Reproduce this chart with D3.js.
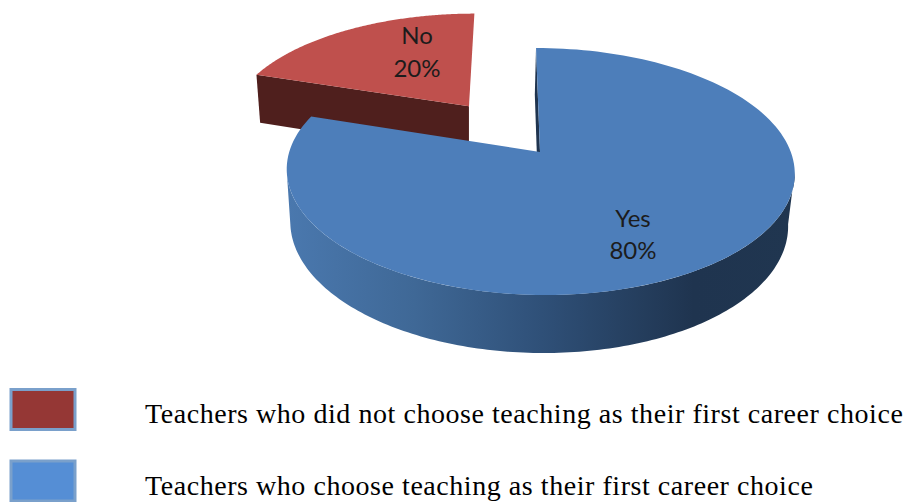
<!DOCTYPE html>
<html lang="en">

<head>
    <meta charset="UTF-8">
    <title>Career choice pie</title>
    <style>
        html, body { margin: 0; padding: 0; background: #fff; overflow: hidden; }
        svg { display: block; }
    </style>
</head>

<body>
    <svg id="chart" width="905" height="502"></svg>
    <script src="https://d3js.org/d3.v7.min.js"></script>
    <script>
        // data
        const categories = ["Yes", "No"];
        const shares = [80, 20];
        const sliceLabels = ["80%", "20%"];
        const legendLabels = [
            "Teachers who did not choose teaching as their first career choice",
            "Teachers who choose teaching as their first career choice"
        ];

        const topColors = { Yes: "#4d7eba", No: "#bf504d" };
        const legendColors = ["#953735", "#558ed5"];

        const svg = d3.select("#chart");

        // perspective projection of the tilted disc. u,v are disc coords (radius 1), z is 0 top, 1 bottom
        const apexX = 540, apexY = 152;
        const scaleX = 250.8, scaleY = 120.4, shear = 4.6, depth = 52.9;
        const tilt = 0.158, shrink = 0.02, lean = -1.5;
        function project(u, v, z) {
            const w = 1 - tilt * v + shrink * z;
            return [
                apexX + (scaleX * u + shear * v + lean * z) / w,
                apexY + (scaleY * v + depth * z) / w
            ];
        }

        const explode = { Yes: 0, No: 0.5 };

        const pie = d3.pie().sort(null);
        const slices = pie(shares).map((d, i) => {
            const mid = (d.startAngle + d.endAngle) / 2;
            const name = categories[i];
            return {
                name: name,
                start: d.startAngle,
                end: d.endAngle,
                dx: explode[name] * Math.sin(mid),
                dy: -explode[name] * Math.cos(mid)
            };
        });

        function rim(s, a, z) {
            return project(s.dx + Math.sin(a), s.dy - Math.cos(a), z);
        }
        function center(s, z) {
            return project(s.dx, s.dy, z);
        }
        function arcPoints(s, z, from, to) {
            const a0 = from === undefined ? s.start : from;
            const a1 = to === undefined ? s.end : to;
            const n = 160;
            return d3.range(n + 1).map(i => rim(s, a0 + (a1 - a0) * i / n, z));
        }

        const line = d3.line();
        const closed = pts => line(pts) + "Z";

        const yes = slices[0], no = slices[1];

        // side gradient for the blue wall
        const grad = svg.append("defs").append("linearGradient")
            .attr("id", "wall")
            .attr("gradientUnits", "userSpaceOnUse")
            .attr("x1", 288).attr("x2", 795).attr("y1", 0).attr("y2", 0);
        [[0, "#4a78ae"], [0.25, "#3f6896"], [0.5, "#2f5078"], [0.8, "#1f344f"], [1, "#203650"]].forEach(s => {
            grad.append("stop").attr("offset", s[0]).attr("stop-color", s[1]);
        });

        // red slice: cut face then top
        svg.append("path")
            .attr("d", closed([center(no, 0), rim(no, no.start, 0), rim(no, no.start, 1), center(no, 1)]))
            .attr("fill", "#4f1f1d");
        svg.append("path")
            .attr("d", closed([center(no, 0)].concat(arcPoints(no, 0))))
            .attr("fill", topColors.No);

        // blue slice: front of the outer wall only, between the two widest points of the rim
        const wallFrom = Math.acos(-tilt);
        const wallTo = 2 * Math.PI - wallFrom;
        svg.append("path")
            .attr("d", closed(arcPoints(yes, 0, wallFrom, wallTo).concat(arcPoints(yes, 1, wallFrom, wallTo).reverse())))
            .attr("fill", "url(#wall)");
        svg.append("path")
            .attr("d", closed([center(yes, 0), rim(yes, yes.start, 0), rim(yes, yes.start, 1), center(yes, 1)]))
            .attr("fill", "#1f344f");
        svg.append("path")
            .attr("d", closed([center(yes, 0)].concat(arcPoints(yes, 0))))
            .attr("fill", topColors.Yes);

        // slice labels
        const labelPos = { Yes: [633, 227, 259], No: [417, 44, 77] };
        categories.forEach((c, i) => {
            const p = labelPos[c];
            [c, sliceLabels[i]].forEach((t, j) => {
                svg.append("text")
                    .attr("x", p[0]).attr("y", p[j + 1])
                    .attr("text-anchor", "middle")
                    .attr("font-family", "Lato, 'Open Sans', sans-serif")
                    .attr("font-size", 24)
                    .attr("fill", "#1c1c1c")
                    .text(t);
            });
        });

        // legend
        const legendY = d3.scalePoint().domain(legendLabels).range([388, 459.5]);
        const legend = svg.selectAll("g.legend").data(legendLabels).enter().append("g").attr("class", "legend");
        legend.append("rect")
            .attr("x", 11)
            .attr("y", d => legendY(d) + 1.5)
            .attr("width", 64)
            .attr("height", 40)
            .attr("fill", (d, i) => legendColors[i])
            .attr("stroke", "#7aa0cb")
            .attr("stroke-width", 3);
        legend.append("text")
            .attr("x", 145)
            .attr("y", d => legendY(d) + 35)
            .attr("font-family", "'Liberation Serif', serif")
            .attr("font-size", 28)
            .attr("letter-spacing", 0.55)
            .attr("fill", "#000")
            .text(d => d);
    </script>
</body>

</html>
